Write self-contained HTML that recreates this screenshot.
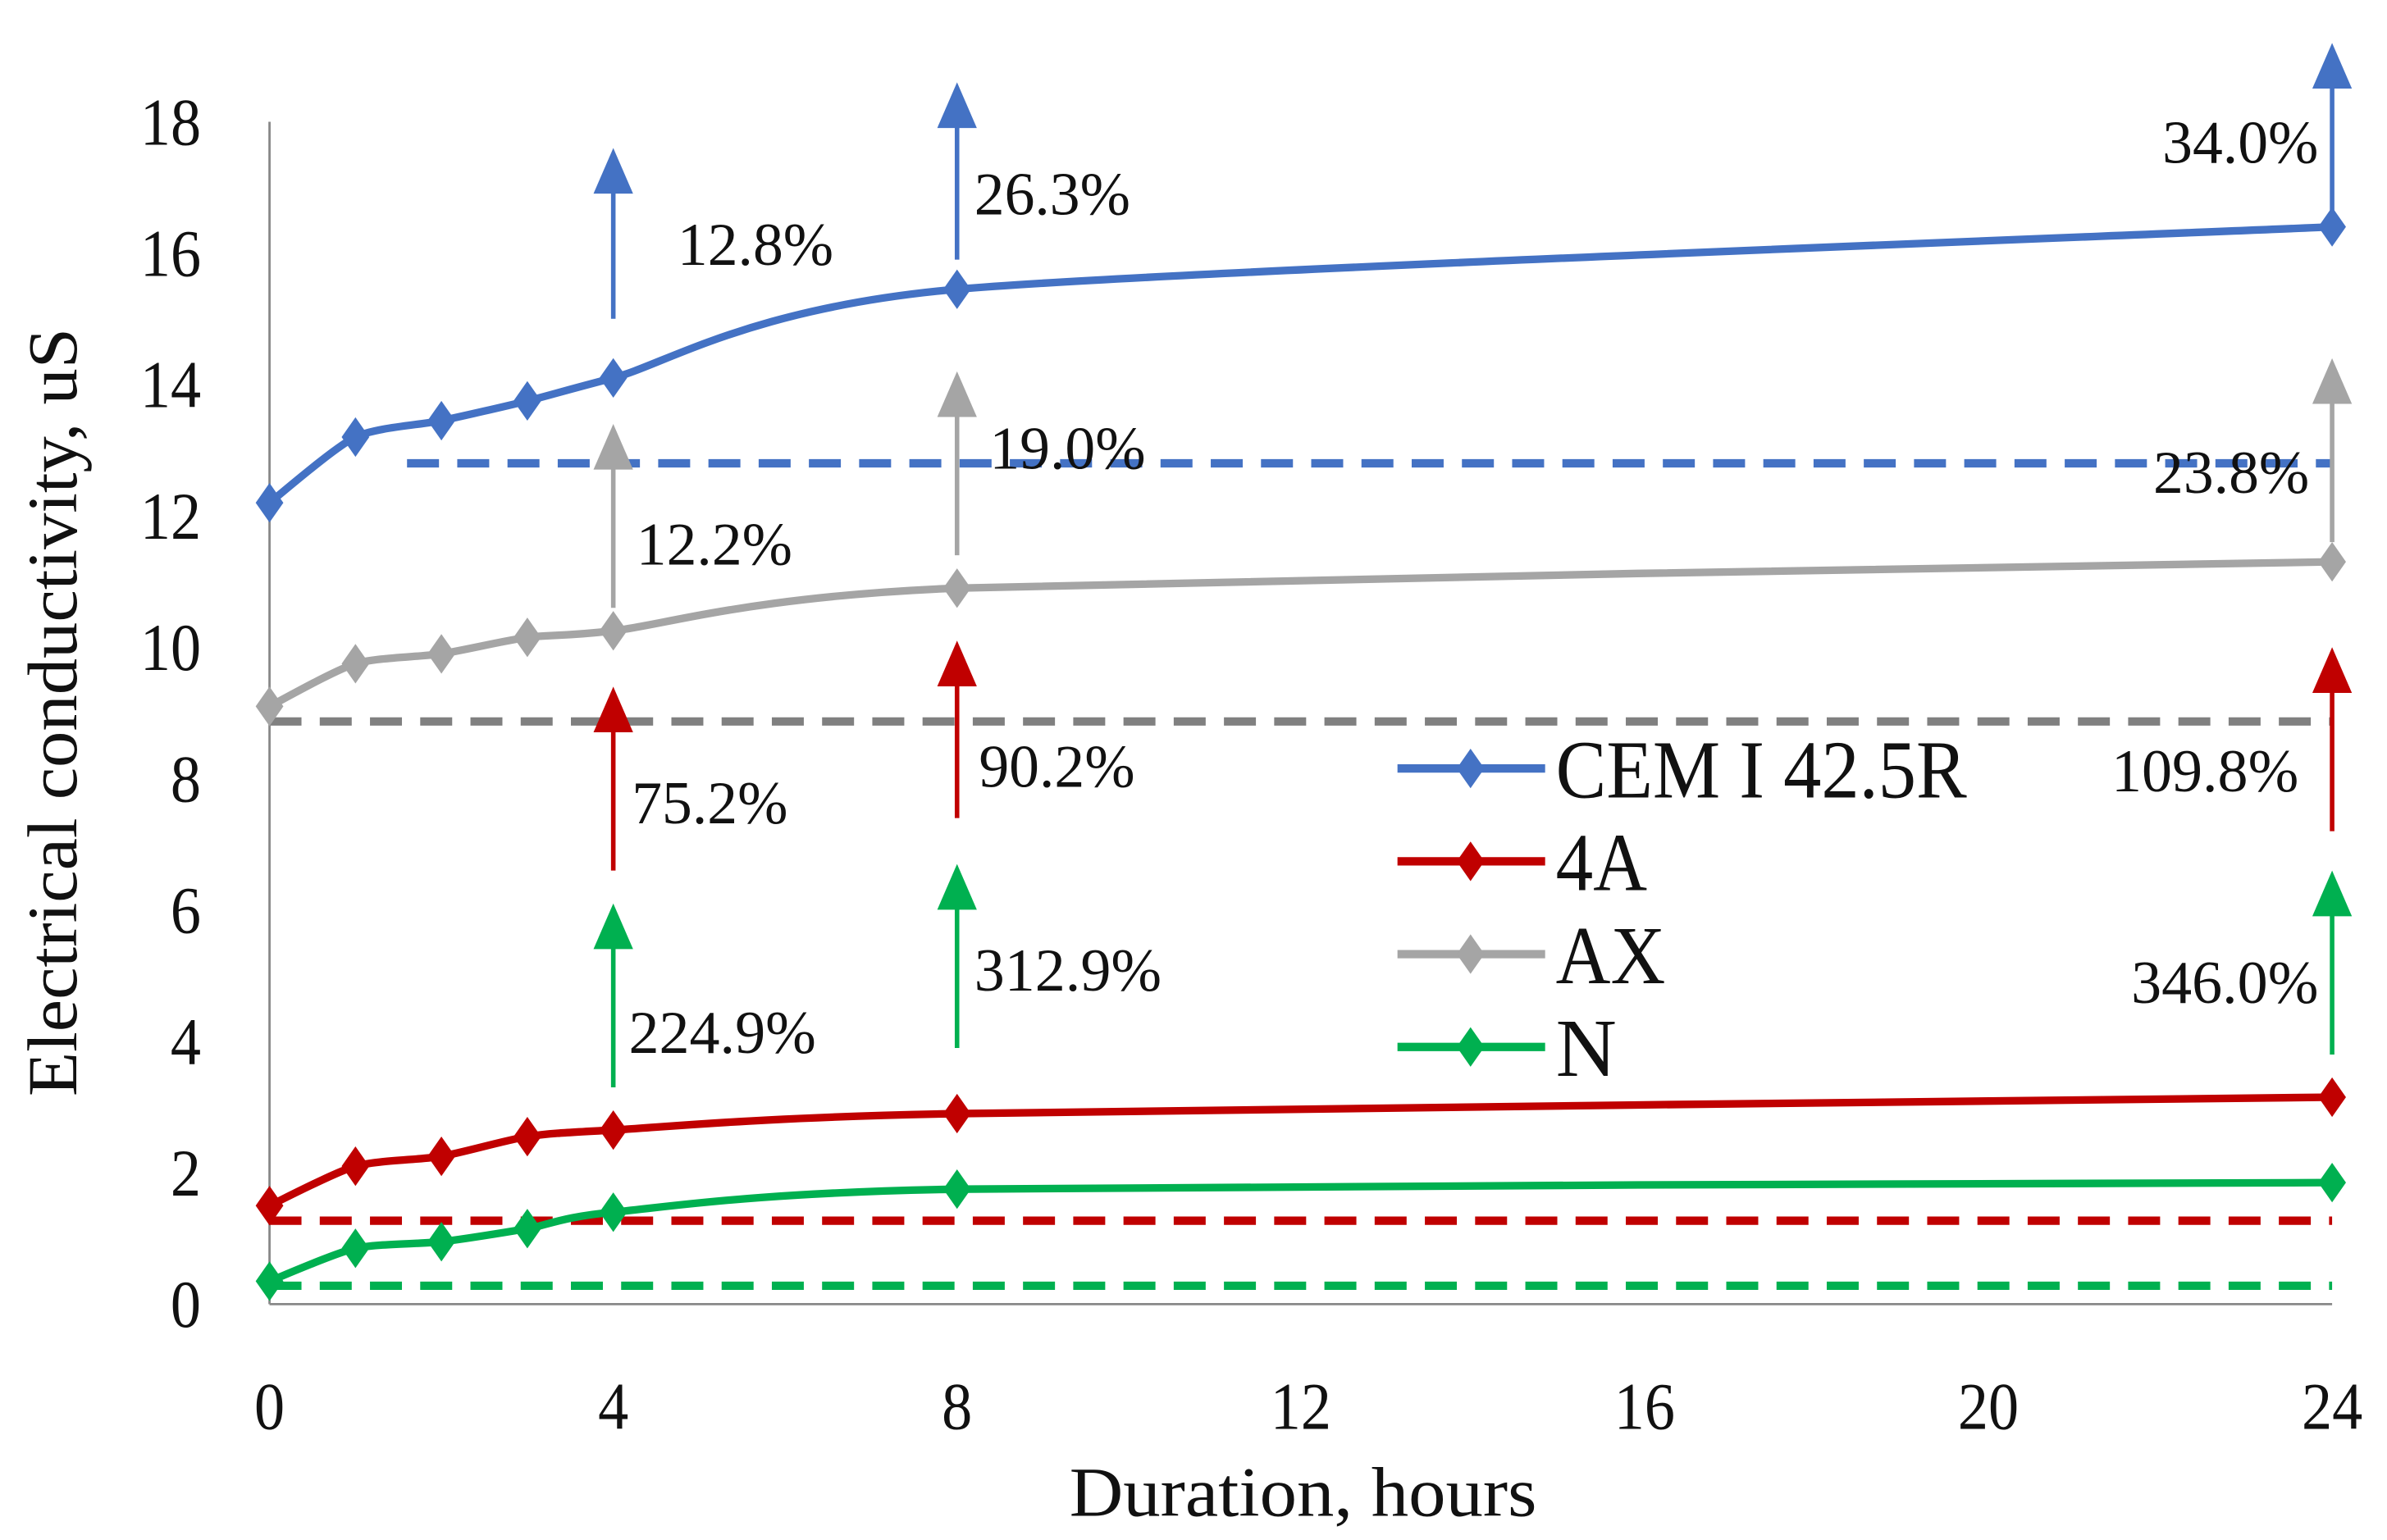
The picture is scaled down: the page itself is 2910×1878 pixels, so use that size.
<!DOCTYPE html>
<html><head><meta charset="utf-8"><style>
html,body{margin:0;padding:0;background:#fff;}
svg{display:block;}
text{font-family:"Liberation Serif",serif;fill:#111;}
</style></head><body>
<svg id="chart" width="2910" height="1878" viewBox="0 0 1568 1012" xmlns="http://www.w3.org/2000/svg"></svg>
<script>
const hours = [0,1,2,3,4,8,24];
const seriesNames = ["CEM I 42.5R","4A","AX","N"];
const cemValues = [12.2,13.2,13.45,13.75,14.1,15.45,16.4];
const a4Values = [1.5,2.1,2.25,2.55,2.65,2.9,3.15];
const axValues = [9.1,9.75,9.9,10.15,10.25,10.9,11.3];
const nValues = [0.35,0.85,0.95,1.15,1.4,1.75,1.85];
const refLevels = [12.8,1.27,8.87,0.28];
const refStart = [1.6,0,0,0];
const arrowHours = [4,8,24];
const cemArrowBase = [15.0,15.9,16.6], cemArrowTip = [17.6,18.6,19.2];
const a4ArrowBase = [6.6,7.4,7.2], a4ArrowTip = [9.4,10.1,10.0];
const axArrowBase = [10.6,11.4,11.6], axArrowTip = [13.4,14.2,14.4];
const nArrowBase = [3.3,3.9,3.8], nArrowTip = [6.1,6.7,6.6];
const cemPct = ["12.8%","26.3%","34.0%"];
const a4Pct = ["75.2%","90.2%","109.8%"];
const axPct = ["12.2%","19.0%","23.8%"];
const nPct = ["224.9%","312.9%","346.0%"];
const yTicks = [0,2,4,6,8,10,12,14,16,18];
const xTicks = [0,4,8,12,16,20,24];

const X0=177,X1=1532,Y0=857,Y1=80;
const xs=h=>X0+(X1-X0)*h/24;
const ys=v=>Y0-(Y0-Y1)*v/18;
const svg=document.getElementById('chart');
const NS='http://www.w3.org/2000/svg';
function mk(tag,attrs,parent){const e=document.createElementNS(NS,tag);for(const k in attrs)e.setAttribute(k,attrs[k]);(parent||svg).appendChild(e);return e;}

let ax=mk('line',{x1:X0,y1:Y1,x2:X0,y2:Y0,stroke:'#888','stroke-width':1.5});


let bx=mk('line',{x1:X0,y1:Y0,x2:X1,y2:Y0,stroke:'#888','stroke-width':1.5});


yTicks.forEach(v=>{const t=mk('text',{x:132,y:ys(v)+15,'text-anchor':'end','font-size':44,textLength:String(v).length*20,lengthAdjust:'spacingAndGlyphs'});t.textContent=v;

});
xTicks.forEach(v=>{const t=mk('text',{x:xs(v),y:939,'text-anchor':'middle','font-size':44,textLength:String(v).length*20,lengthAdjust:'spacingAndGlyphs'});t.textContent=v;

});
let xt=mk('text',{x:856,y:996,'text-anchor':'middle','font-size':46,textLength:307,lengthAdjust:'spacingAndGlyphs'});xt.textContent='Duration, hours';


let yt=mk('text',{x:0,y:0,'text-anchor':'middle','font-size':46,textLength:505,lengthAdjust:'spacingAndGlyphs',transform:'translate(50,468) rotate(-90)'});yt.textContent='Electrical conductivity, uS';



const colors=['#4472C4','#C00000','#A5A5A5','#00B050'];
const dashColors=['#4472C4','#C00000','#808080','#00B050'];
const all=[cemValues,a4Values,axValues,nValues];

refLevels.forEach((v,i)=>{const l=mk('line',{x1:xs(refStart[i]),y1:ys(v),x2:X1,y2:ys(v),stroke:dashColors[i],'stroke-width':5.5,'stroke-dasharray':'21 12'});

});

function smooth(pts){let d='M'+pts[0][0]+','+pts[0][1];
for(let i=0;i<pts.length-1;i++){const p0=pts[i-1]||pts[i],p1=pts[i],p2=pts[i+1],p3=pts[i+2]||p2;const t=0.12;
const c1=[p1[0]+(p2[0]-p0[0])*t,p1[1]+(p2[1]-p0[1])*t],c2=[p2[0]-(p3[0]-p1[0])*t,p2[1]-(p3[1]-p1[1])*t];
d+=' C'+c1+' '+c2+' '+p2;}return d;}
function diamond(x,y,c,r){return mk('path',{d:`M${x},${y-r} L${x+r*0.7},${y} L${x},${y+r} L${x-r*0.7},${y} Z`,fill:c});}

const labY={cem:[[445,172],[640,139],[1523,105]],ax:[[418,369],[650,306],[1517,322]],a4:[[415,539],[643,515],[1510,518]],n:[[413,690],[640,649],[1523,657]]};
[[cemArrowBase,cemArrowTip,cemPct,0,'cem'],[a4ArrowBase,a4ArrowTip,a4Pct,1,'a4'],[axArrowBase,axArrowTip,axPct,2,'ax'],[nArrowBase,nArrowTip,nPct,3,'n']].forEach(([B,T,P,ci,nm])=>{
arrowHours.forEach((h,i)=>{const x=xs(h);
const l=mk('line',{x1:x,y1:ys(B[i]),x2:x,y2:ys(T[i])+26,stroke:colors[ci],'stroke-width':3});


const p=mk('path',{d:`M${x},${ys(T[i])} L${x+13},${ys(T[i])+30} L${x-13},${ys(T[i])+30} Z`,fill:colors[ci]});


const pos=labY[nm][i];const right=i===2;
const tx=mk('text',{x:pos[0],y:pos[1]+2,'text-anchor':right?'end':'start','font-size':40,textLength:P[i].length*20.5,lengthAdjust:'spacingAndGlyphs'});tx.textContent=P[i];

});});

all.forEach((vals,si)=>{const pts=hours.map((h,i)=>[xs(h),ys(vals[i])]);
const p=mk('path',{d:smooth(pts),fill:'none',stroke:colors[si],'stroke-width':5});


pts.forEach(q=>{const d=diamond(q[0],q[1],colors[si],13);

});});

const legY=[505,566,627,688];
const legW=[270,60,72,40];
seriesNames.forEach((n,i)=>{const g=mk('g',{});


mk('line',{x1:918,y1:legY[i],x2:1015,y2:legY[i],stroke:colors[i],'stroke-width':5.5},g);
g.appendChild(diamond(966,legY[i],colors[i],13));
const t=mk('text',{x:1022,y:legY[i]+19,'font-size':54,textLength:legW[i],lengthAdjust:'spacingAndGlyphs'},g);t.textContent=n;
});
</script>
</body></html>
